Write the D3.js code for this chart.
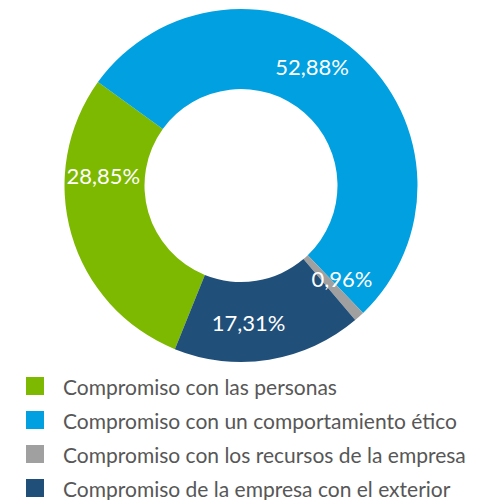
<!DOCTYPE html>
<html>
<head>
<meta charset="utf-8">
<script src="https://cdn.jsdelivr.net/npm/d3@7"></script>
<style>
  body { margin: 0; background: #fff; }
  text { font-family: Lato, "Open Sans", sans-serif; font-weight: 400; }
</style>
</head>
<body>
<div id="chart"></div>
<script>
const categories = [
  "Compromiso con las personas",
  "Compromiso con un comportamiento ético",
  "Compromiso con los recursos de la empresa",
  "Compromiso de la empresa con el exterior"
];
const values = [28.85, 52.88, 0.96, 17.31];
const valueLabels = ["28,85%", "52,88%", "0,96%", "17,31%"];
const colors = ["#7db900", "#00a0e1", "#a0a0a0", "#204f7a"];

const width = 482, height = 500;
const cx = 241, cy = 185.5,
  outerR = 176.5, innerR = 96.5;

// label tweaks (degrees off the slice middle)
const labelNudge = [20, -10, -5, 6];
const labelR = 138;

const svg = d3.select("#chart")
  .append("svg")
  .attr("width", width)
  .attr("height", height);

const chart = svg.append("g")
  .attr("transform", `translate(${cx},${cy})`);

const start = -158 * Math.PI / 180;

const pie = d3.pie()
  .sort(null)
  .value(d => d)
  .startAngle(start)
  .endAngle(start + 2 * Math.PI);

const arc = d3.arc()
  .innerRadius(innerR)
  .outerRadius(outerR);

const arcs = pie(values);

chart.selectAll("path")
  .data(arcs)
  .enter()
  .append("path")
  .attr("d", arc)
  .attr("fill", (d, i) => colors[i]);

chart.selectAll(".pct")
  .data(arcs)
  .enter()
  .append("text")
  .attr("class", "pct")
  .attr("transform", (d, i) => {
    const a = (d.startAngle + d.endAngle) / 2 + labelNudge[i] * Math.PI / 180;
    return `translate(${Math.sin(a) * labelR},${-Math.cos(a) * labelR})`;
  })
  .attr("text-anchor", "middle")
  .attr("dy", "0.36em")
  .style("font-size", "22px")
  .attr("fill", "#fff")
  .text((d, i) => valueLabels[i]);

// Legend
const legend = svg.append("g")
  .attr("transform", "translate(26, 377)");

const rowY = d3.scaleBand()
  .domain(categories)
  .range([0, 136]);

categories.forEach((c, i) => {
  legend.append("rect")
    .attr("x", 0)
    .attr("y", rowY(c))
    .attr("width", 18)
    .attr("height", 18)
    .attr("fill", colors[i]);

  legend.append("text")
    .attr("x", 37)
    .attr("y", rowY(c) + 18)
    .text(c)
    .style("font-size", "21px")
    .attr("fill", "#575757");
});
</script>
</body>
</html>
